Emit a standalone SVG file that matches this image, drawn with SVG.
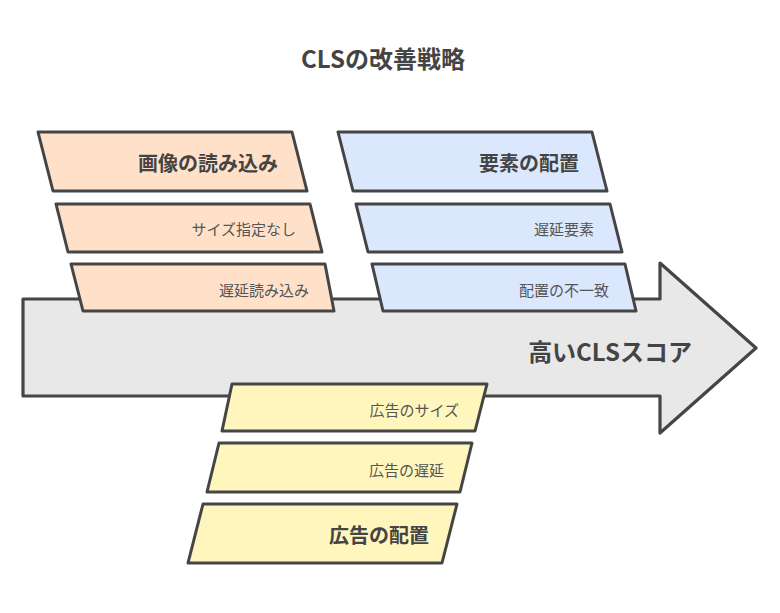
<svg xmlns="http://www.w3.org/2000/svg" width="780" height="613" viewBox="0 0 780 613">
<style>
.o{stroke:#454545;stroke-width:3;stroke-linejoin:round;fill:#ffe1c9}
.b{stroke:#454545;stroke-width:3;stroke-linejoin:round;fill:#dbe7fc}
.y{stroke:#454545;stroke-width:3;stroke-linejoin:round;fill:#fff6bd}
.a{stroke:#454545;stroke-width:3.2;stroke-linejoin:round;fill:#e8e8e8}
.h{font-family:"Noto Sans CJK JP","Noto Sans",sans-serif;font-weight:bold;font-size:20px;fill:#444;text-anchor:end;dominant-baseline:central}
.s{font-family:"Noto Sans CJK JP","Noto Sans",sans-serif;font-size:15px;fill:#555;text-anchor:end;dominant-baseline:central}
.t{font-family:"Noto Sans CJK JP","Noto Sans",sans-serif;font-weight:bold;font-size:24px;fill:#444;dominant-baseline:central}
</style>
<rect width="780" height="613" fill="#fff"/>
<g id="title"><text class="t" x="383" y="57" text-anchor="middle">CLSの改善戦略</text></g>
<g id="high-cls">
<path class="a" d="M23 299 L660 299 L660 263 L756 348 L660 433 L660 396 L23 396 Z"/>
<text class="t" x="692" y="350" text-anchor="end">高いCLSスコア</text>
</g>
<g id="connectors"></g>
<g id="image-loading">
<polygon class="o" points="38,132 292,132 307,191 53,191"/>
<text class="h" x="278" y="162">画像の読み込み</text>
</g>
<g id="no-size">
<polygon class="o" points="56,204 310,204 322,252 68,252"/>
<text class="s" x="296" y="228">サイズ指定なし</text>
</g>
<g id="lazy-load">
<polygon class="o" points="71,264 325,264 334,311 83,311"/>
<text class="s" x="309" y="289">遅延読み込み</text>
</g>
<g id="element-layout">
<polygon class="b" points="338,132 592,132 607,191 353,191"/>
<text class="h" x="579" y="162">要素の配置</text>
</g>
<g id="lazy-element">
<polygon class="b" points="356,204 610,204 622,252 368,252"/>
<text class="s" x="594" y="228">遅延要素</text>
</g>
<g id="layout-mismatch">
<polygon class="b" points="372,264 625,264 636,311 383,311"/>
<text class="s" x="609" y="289">配置の不一致</text>
</g>
<g id="ad-size">
<polygon class="y" points="232,384 487,384 475,431 222,431"/>
<text class="s" x="459" y="409">広告のサイズ</text>
</g>
<g id="ad-delay">
<polygon class="y" points="219,443 472,443 460,492 207,492"/>
<text class="s" x="444" y="469">広告の遅延</text>
</g>
<g id="ad-layout">
<polygon class="y" points="203,504 457,504 442,563 188,563"/>
<text class="h" x="429" y="534">広告の配置</text>
</g>
</svg>
